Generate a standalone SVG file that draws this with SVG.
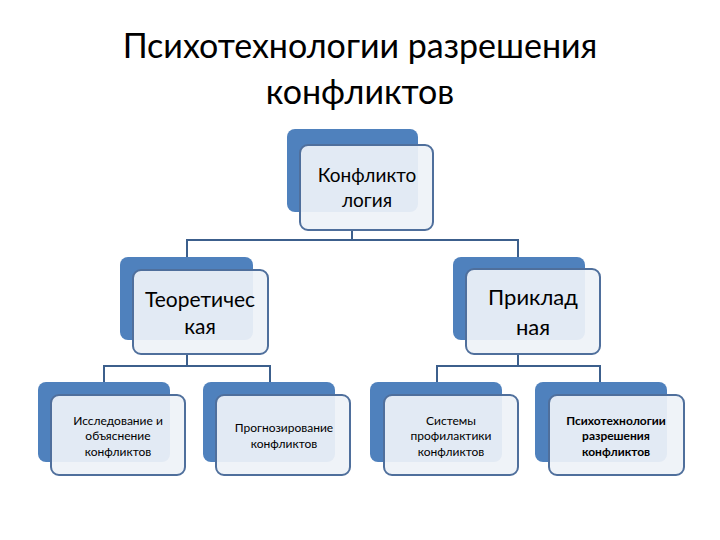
<svg xmlns="http://www.w3.org/2000/svg" width="720" height="540" viewBox="0 0 720 540">
<style>
.b{fill:#4f81bd;}
.w{fill:#eef2f7;stroke:#4f6f9c;stroke-width:2;fill-opacity:0.93}
.t{font-family:Lato,"Open Sans",sans-serif;fill:#000;text-anchor:middle}
.c{fill:none;stroke:#3c5f8c;stroke-width:2}
</style>
<rect width="720" height="540" fill="#fff"/>
<text class="t" x="360" y="58" font-size="34">Психотехнологии разрешения</text>
<text class="t" x="360" y="104" font-size="34">конфликтов</text>
<g id="connectors">
<path class="c" d="M352 230V240M187 257V240H518V257M187 354V366M104 382V366H270V382M518 354V366M437 382V366H600V382"/>
</g>
<g id="n0"><rect class="b" x="287" y="129" width="131" height="83" rx="8"/><rect class="w" x="300" y="145" width="133" height="85" rx="8"/>
<text class="t" font-size="19" x="367" y="182">Конфликто</text><text class="t" font-size="19" x="367" y="207">логия</text></g>
<g id="n1"><rect class="b" x="120" y="257" width="133" height="83" rx="8"/><rect class="w" x="133" y="270" width="135" height="84" rx="8"/>
<text class="t" font-size="21" x="200" y="307">Теоретичес</text><text class="t" font-size="21" x="200" y="334">кая</text></g>
<g id="n2"><rect class="b" x="453" y="257" width="132" height="83" rx="8"/><rect class="w" x="466" y="269" width="134" height="85" rx="8"/>
<text class="t" font-size="22" x="533" y="305">Приклад</text><text class="t" font-size="22" x="533" y="335">ная</text></g>
<g id="n3"><rect class="b" x="38" y="382" width="132" height="80" rx="8"/><rect class="w" x="51" y="395" width="134" height="80" rx="8"/>
<text class="t" font-size="12" x="118" y="425">Исследование и</text><text class="t" font-size="12" x="118" y="440">объяснение</text><text class="t" font-size="12" x="118" y="456">конфликтов</text></g>
<g id="n4"><rect class="b" x="203" y="382" width="132" height="80" rx="8"/><rect class="w" x="216" y="395" width="134" height="80" rx="8"/>
<text class="t" font-size="12" x="284" y="432">Прогнозирование</text><text class="t" font-size="12" x="284" y="448">конфликтов</text></g>
<g id="n5"><rect class="b" x="370" y="382" width="132" height="80" rx="8"/><rect class="w" x="384" y="395" width="134" height="80" rx="8"/>
<text class="t" font-size="12" x="451" y="425">Системы</text><text class="t" font-size="12" x="451" y="440">профилактики</text><text class="t" font-size="12" x="451" y="456">конфликтов</text></g>
<g id="n6"><rect class="b" x="535" y="382" width="132" height="80" rx="8"/><rect class="w" x="549" y="395" width="135" height="80" rx="8"/>
<text class="t" font-size="12" font-weight="bold" x="616" y="425">Психотехнологии</text><text class="t" font-size="12" font-weight="bold" x="616" y="440">разрешения</text><text class="t" font-size="12" font-weight="bold" x="616" y="456">конфликтов</text></g>
</svg>
